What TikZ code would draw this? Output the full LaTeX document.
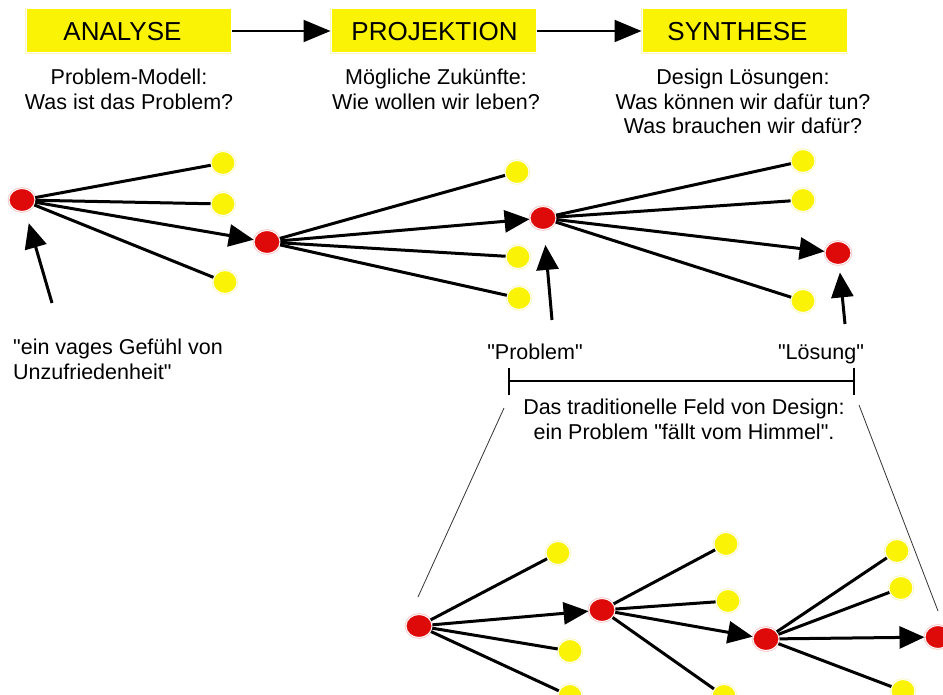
\documentclass[tikz,border=0pt]{standalone}
\usepackage{fontspec}
\setmainfont{Liberation Sans}[Ligatures=TeXOff]
\usetikzlibrary{arrows.meta,shapes.geometric}

\definecolor{dotred}{RGB}{222,10,10}
\definecolor{dotyellow}{RGB}{250,243,5}
\definecolor{ringred}{RGB}{246,196,196}
\definecolor{ringyellow}{RGB}{250,246,190}

\tikzset{
  x=1pt, y=-1pt,
  reddot/.style={ellipse, inner sep=0pt, minimum width=26pt, minimum height=23pt,
    fill=dotred, draw=white, line width=1pt,
    preaction={draw=ringred, line width=2.6pt}},
  yeldot/.style={ellipse, inner sep=0pt, minimum width=24pt, minimum height=23pt,
    fill=dotyellow, draw=white, line width=1pt,
    preaction={draw=ringyellow, line width=2.6pt}},
  hdrbox/.style={rectangle, inner sep=0pt, minimum width=205pt, minimum height=44pt,
    fill=dotyellow, draw=white, line width=1pt,
    preaction={draw=ringyellow, line width=2.8pt}},
  hdrtext/.style={inner sep=0pt, font=\fontsize{26}{30}\selectfont},
  caption/.style={inner sep=0pt, align=center, font=\fontsize{21.5}{24.5}\selectfont},
  branch/.style={line width=3pt},
  lead/.style={line width=3pt, -{Triangle[length=25pt,width=22pt]}},
  flow/.style={line width=2pt, -{Triangle[length=27pt,width=22pt]}},
  zoomline/.style={line width=0.8pt, black!80},
}

\begin{document}
\begin{tikzpicture}
\useasboundingbox (0,0) rectangle (943,695);

% phase headers
\node[hdrbox] (ana) at (128.5,31) {};
\node[hdrbox] (pro) at (433.5,31) {};
\node[hdrbox] (syn) at (744.5,31) {};
\node[hdrtext] (anat) at (122.5,31.5) {ANALYSE};
\node[hdrtext] (prot) at (434.5,31.5) {PROJEKTION};
\node[hdrtext] (synt) at (737.5,31.5) {SYNTHESE};
\draw[flow] (ana) -- (pro);
\draw[flow] (pro) -- (syn);

% phase descriptions
\node[caption] (anac) at (129,89.5) {Problem-Modell:\\Was ist das Problem?};
\node[caption] (proc) at (436,89.5) {Mögliche Zukünfte:\\Wie wollen wir leben?};
\node[caption] (sync) at (743,101.5) {Design Lösungen:\\Was können wir dafür tun?\\Was brauchen wir dafür?};

% upper decision tree
\node[reddot] (A) at (22,200) {};
\node[yeldot] (a1) at (223,163) {};
\node[yeldot] (a2) at (223,204) {};
\node[yeldot] (a3) at (225,282) {};
\node[reddot] (B) at (267,242) {};
\node[yeldot] (b1) at (517,172) {};
\node[yeldot] (b2) at (518,257) {};
\node[yeldot] (b3) at (519,298) {};
\node[reddot] (C) at (543,218) {};
\node[yeldot] (c1) at (803,161) {};
\node[yeldot] (c2) at (803,200) {};
\node[yeldot] (c3) at (803,301) {};
\node[reddot] (D) at (838,253) {};

\draw[branch] (A) -- (a1);
\draw[branch] (A) -- (a2);
\draw[branch] (A) -- (a3);
\draw[lead] (A) -- (B);
\draw[branch] (B) -- (b1);
\draw[branch] (B) -- (b2);
\draw[branch] (B) -- (b3);
\draw[lead] (B) -- (C);
\draw[branch] (C) -- (c1);
\draw[branch] (C) -- (c2);
\draw[branch] (C) -- (c3);
\draw[lead] (C) -- (D);

% pointers with their labels
\coordinate (pA) at (52,303);
\coordinate (pC) at (552,320);
\coordinate (pD) at (845,324);
\draw[lead, shorten >=12pt] (pA) -- (A);
\draw[lead, shorten >=15pt] (pC) -- (C);
\draw[lead, shorten >=7.5pt] (pD) -- (D);

\node[caption, anchor=west, align=left] (vague) at (13,359.5) {"ein vages Gefühl von\\Unzufriedenheit"};
\node[caption, anchor=base] (prob) at (535,359) {"Problem"};
\node[caption, anchor=base] (loes) at (821,359) {"Lösung"};

% span of the traditional design field
\coordinate (bl) at (508,381);
\coordinate (br) at (855,381);
\draw[line width=2pt, {Bar[width=27pt]}-{Bar[width=27pt]}] (bl) -- (br);
\node[caption] (field) at (684,419.5) {Das traditionelle Feld von Design:\\ein Problem "fällt vom Himmel".};

% magnified view lines
\coordinate (zl1) at (504,408);
\coordinate (zl2) at (418,597);
\coordinate (zr1) at (859,405);
\coordinate (zr2) at (938,611);
\draw[zoomline] (zl1) -- (zl2);
\draw[zoomline] (zr1) -- (zr2);

% lower decision tree
\node[reddot] (E) at (419,626) {};
\node[yeldot] (e1) at (558,553) {};
\node[yeldot] (e2) at (570,651) {};
\node[yeldot] (e3) at (570,696) {};
\node[reddot] (F) at (602,610) {};
\node[yeldot] (f1) at (726,544) {};
\node[yeldot] (f2) at (728,601) {};
\node[yeldot] (f3) at (724,696) {};
\node[reddot] (G) at (766,639) {};
\node[yeldot] (g1) at (897,551) {};
\node[yeldot] (g2) at (901,588) {};
\node[yeldot] (g3) at (903,691) {};
\node[reddot] (H) at (938,637) {};

\draw[branch] (E) -- (e1);
\draw[branch] (E) -- (e2);
\draw[branch] (E) -- (e3);
\draw[lead] (E) -- (F);
\draw[branch] (F) -- (f1);
\draw[branch] (F) -- (f2);
\draw[branch] (F) -- (f3);
\draw[lead] (F) -- (G);
\draw[branch] (G) -- (g1);
\draw[branch] (G) -- (g2);
\draw[branch] (G) -- (g3);
\draw[lead] (G) -- (H);
\end{tikzpicture}
\end{document}
